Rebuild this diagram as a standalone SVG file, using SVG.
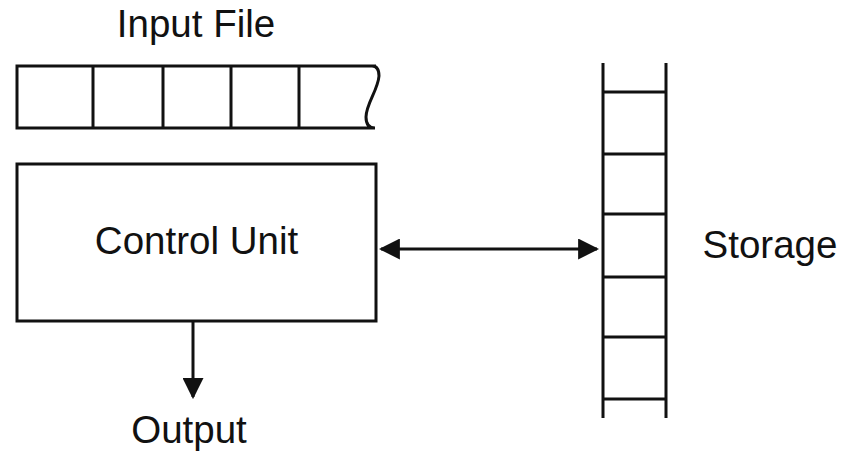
<svg xmlns="http://www.w3.org/2000/svg" width="842" height="452" viewBox="0 0 842 452">
  <style>
    .ln { fill: none; stroke: #111; stroke-width: 3; }
    .lbl { font-family: "Liberation Sans", Arial, sans-serif; font-size: 38.5px; fill: #111; text-anchor: middle; }
  </style>
  <defs>
    <marker id="head" viewBox="0 0 10 10" refX="9" refY="5" markerWidth="7" markerHeight="7" markerUnits="strokeWidth" orient="auto-start-reverse">
      <path d="M0,0 L10,5 L0,10 Z" fill="#111"/>
    </marker>
  </defs>
  <rect width="842" height="452" fill="#fff"/>

  <!-- tape of input cells, torn at the right end -->
  <g id="input-file">
    <path class="ln" d="M376,66 L17,66 L17,128 L375,128 Q366,128 366,117 C366,104 378,90 379,76 Q379,66 372,66"/>
    <path class="ln" d="M93,66 V128 M163,66 V128 M231,66 V128 M299,66 V128"/>
    <text class="lbl" x="196" y="37">Input File</text>
  </g>

  <g id="control-unit">
    <rect class="ln" x="17" y="164" width="359" height="157"/>
    <text class="lbl" x="196.5" y="254">Control Unit</text>
  </g>

  <!-- storage ladder -->
  <g id="storage">
    <path class="ln" d="M603,63 V418 M666,63 V418"/>
    <path class="ln" d="M603,92 H666 M603,154 H666 M603,214 H666 M603,277 H666 M603,337 H666 M603,399 H666"/>
    <text class="lbl" x="770" y="258">Storage</text>
  </g>

  <g id="output">
    <text class="lbl" x="189" y="443">Output</text>
  </g>

  <g id="connectors">
    <line class="ln" x1="381" y1="249" x2="597" y2="249" marker-start="url(#head)" marker-end="url(#head)"/>
    <line class="ln" x1="193" y1="321" x2="193" y2="397" marker-end="url(#head)"/>
  </g>
</svg>
